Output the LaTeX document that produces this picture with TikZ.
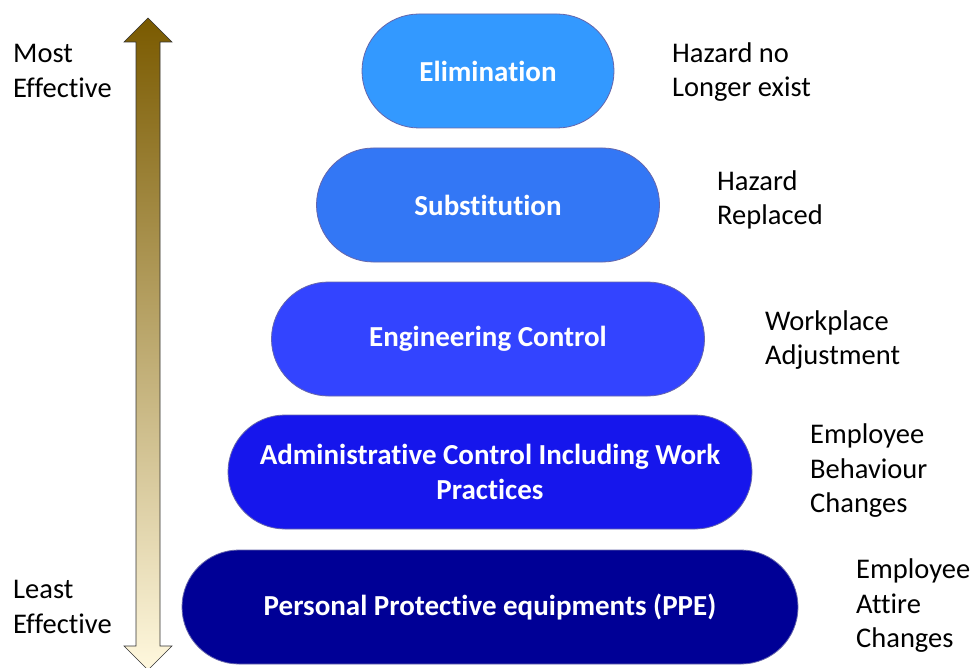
\documentclass[tikz,border=0pt]{standalone}
\usepackage{fontspec}
\setmainfont[Ligatures={NoCommon}]{Carlito}
\begin{document}
\begin{tikzpicture}[x=1pt,y=-1pt,
  pill/.style={draw=black!55!blue!60, line width=0.8pt, rounded corners=57pt, minimum height=114pt, text=white, font=\fontsize{29}{35}\selectfont\bfseries, align=center, inner sep=0pt},
  lbl/.style={anchor=west, align=left, font=\fontsize{28.5}{34.5}\selectfont, inner sep=0pt}]
\useasboundingbox (0,0) rectangle (973,668);
\definecolor{c1}{RGB}{51,153,255}
\definecolor{c2}{RGB}{51,119,245}
\definecolor{c3}{RGB}{51,68,255}
\definecolor{c4}{RGB}{22,22,236}
\definecolor{c5}{RGB}{0,0,150}
% arrow
\shade[top color={rgb,255:red,122;green,90;blue,0}, bottom color={rgb,255:red,255;green,248;blue,222}, draw=black!80, line width=0.6pt]
  (148,18) -- (172,42) -- (160,42) -- (160,646) -- (172,646) -- (148,670) -- (124,646) -- (136,646) -- (136,42) -- (124,42) -- cycle;
% pills
\node[pill, fill=c1, minimum width=252pt] (elim) at (488,71) {Elimination};
\node[pill, fill=c2, minimum width=343pt] (subs) at (488,205) {Substitution};
\node[pill, fill=c3, minimum width=433pt] (eng) at (488,339) {Engineering Control};
\node[pill, fill=c4, minimum width=524pt] (adm) at (490,472) {Administrative Control Including Work\\Practices};
\node[pill, fill=c5, minimum width=616pt] (ppe) at (490,607) {Personal Protective equipments (PPE)};
% left labels
\node[lbl] (most) at (13,71) {Most\\Effective};
\node[lbl] (least) at (13,607) {Least\\Effective};
% right labels
\node[lbl] (r1) at (672,72) {Hazard no\\Longer exist};
\node[lbl] (r2) at (717,200) {Hazard\\Replaced};
\node[lbl] (r3) at (765,340) {Workplace\\Adjustment};
\node[lbl] (r4) at (810,471) {Employee\\Behaviour\\Changes};
\node[lbl] (r5) at (856,606) {Employee\\Attire\\Changes};
\end{tikzpicture}
\end{document}
